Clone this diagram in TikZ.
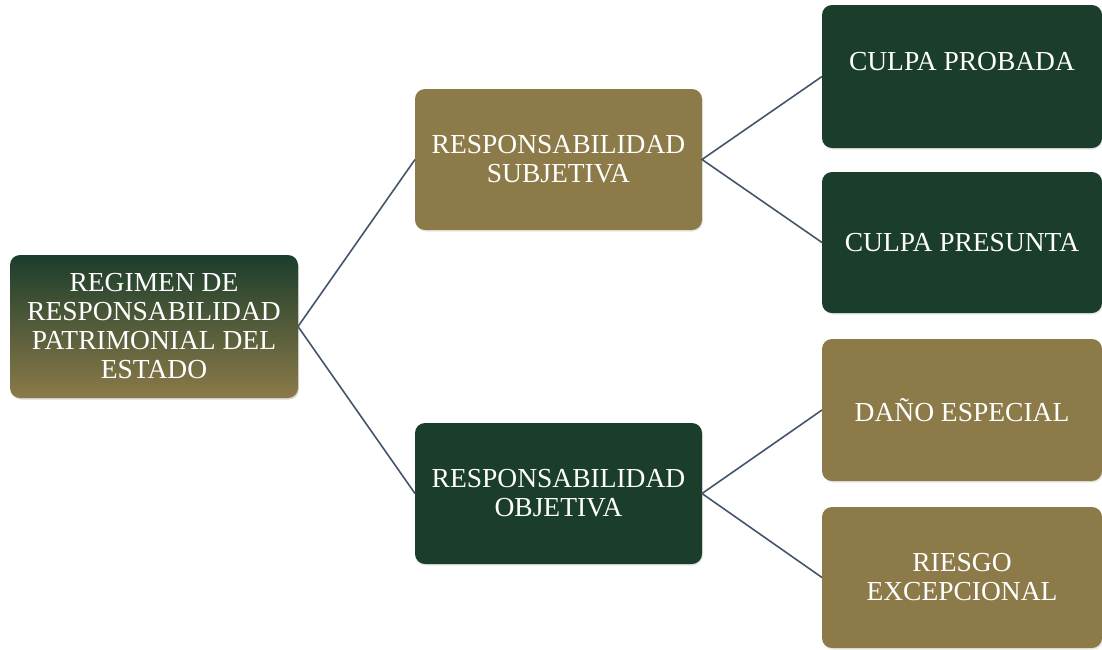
\documentclass[tikz,border=0pt]{standalone}
\usepackage{fontspec}
\setmainfont{Liberation Serif}
\usetikzlibrary{shadows}
\definecolor{olive}{HTML}{8C7A49}
\definecolor{dgreen}{HTML}{1B3D2B}
\definecolor{linec}{HTML}{44546A}
\tikzset{
  box/.style={rounded corners=10pt, drop shadow={opacity=0.18, shadow xshift=1pt, shadow yshift=-1.5pt}},
  gbox/.style={box, fill=dgreen},
  obox/.style={box, fill=olive},
  lbl/.style={text=white, align=center, font=\fontsize{27.5}{29}\selectfont},
  conn/.style={draw=linec, line width=1.6pt}
}
\begin{document}
\begin{tikzpicture}[x=1pt,y=-1pt]
\useasboundingbox (0,0) rectangle (1102,649);
% root
\fill[black, opacity=0.15, rounded corners=10pt] (11,257) rectangle (299,399.5);
\shade[rounded corners=10pt, top color=dgreen, bottom color=olive] (10,255) rectangle (298,398);
\node[lbl] (root) at (154,326.5) {REGIMEN DE\\RESPONSABILIDAD\\PATRIMONIAL DEL\\ESTADO};
\coordinate (rootE) at (298,326.5);
% middle
\path[obox] (415,89) rectangle (702,230);
\node[lbl] (subj) at (558.5,159.5) {RESPONSABILIDAD\\SUBJETIVA};
\path[gbox] (415,423) rectangle (702,564);
\node[lbl] (obj) at (558.5,493.5) {RESPONSABILIDAD\\OBJETIVA};
\coordinate (subjW) at (415,159.5);
\coordinate (subjE) at (702,159.5);
\coordinate (objW) at (415,493.5);
\coordinate (objE) at (702,493.5);
% right
\path[gbox] (822,5) rectangle (1102,148);
\node[lbl] (cp) at (962,62) {CULPA PROBADA};
\path[gbox] (822,172) rectangle (1102,313);
\node[lbl] (cpr) at (962,243) {CULPA PRESUNTA};
\path[obox] (822,339) rectangle (1102,481);
\node[lbl] (de) at (962,410) {DAÑO ESPECIAL};
\path[obox] (822,507) rectangle (1102,648);
\node[lbl] (re) at (962,577.5) {RIESGO\\EXCEPCIONAL};
\coordinate (cpW) at (822,76.5);
\coordinate (cprW) at (822,242.5);
\coordinate (deW) at (822,410);
\coordinate (reW) at (822,577.5);
% connectors
\draw[conn] (subjW) -- (rootE) -- (objW);
\draw[conn] (cpW) -- (subjE) -- (cprW);
\draw[conn] (deW) -- (objE) -- (reW);
\end{tikzpicture}
\end{document}
